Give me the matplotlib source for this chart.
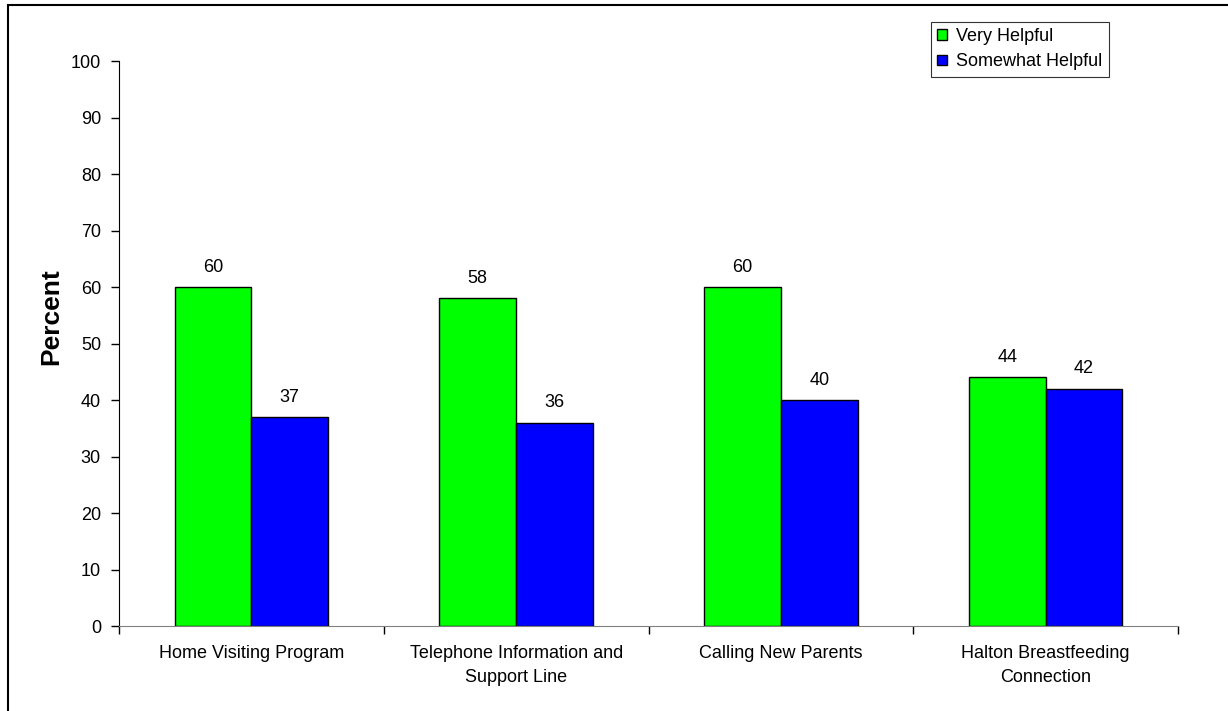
import numpy as np
import matplotlib.pyplot as plt
from matplotlib.patches import Rectangle

plt.rcParams['font.family'] = ['Liberation Sans', 'DejaVu Sans']

categories = ["Home Visiting Program", "Telephone Information and\nSupport Line",
              "Calling New Parents", "Halton Breastfeeding\nConnection"]
very_helpful = [60, 58, 60, 44]
somewhat_helpful = [37, 36, 40, 42]

fig = plt.figure(figsize=(12.28, 7.11), dpi=100)
ax = fig.add_axes([0.0969, 0.1195, 0.8624, 0.7947])

x = np.arange(len(categories))
w = 0.29
b1 = ax.bar(x - w / 2, very_helpful, w, color='#00FF00', edgecolor='black', linewidth=1, label='Very Helpful')
b2 = ax.bar(x + w / 2, somewhat_helpful, w, color='#0000FF', edgecolor='black', linewidth=1, label='Somewhat Helpful')

for bars in (b1, b2):
    for r in bars:
        ax.text(r.get_x() + r.get_width() / 2, r.get_height() + 2, "%d" % r.get_height(),
                ha='center', va='bottom', fontsize=13)

ax.set_xlim(-0.5, 3.5)
ax.set_ylim(0, 100)
ax.set_yticks(range(0, 101, 10))
ax.tick_params(axis='y', labelsize=13, length=6, direction='out', width=1, pad=7)
ax.set_xticks(x)
ax.set_xticklabels(categories, fontsize=13, linespacing=1.5)
ax.tick_params(axis='x', length=0, pad=14)
ax.set_xticks(np.arange(-0.5, 4.0, 1.0), minor=True)
ax.tick_params(axis='x', which='minor', length=6, width=1)
ax.spines['top'].set_visible(False)
ax.spines['right'].set_visible(False)
ax.spines['bottom'].set_color('#808080')
ax.set_ylabel('Percent', fontsize=19, fontweight='bold')
ax.yaxis.set_label_coords(-0.053, 0.547)

leg = ax.legend(loc='upper left', bbox_to_anchor=(931 / 1228, 1 - 22 / 711), bbox_transform=fig.transFigure,
                fontsize=13, frameon=True, fancybox=False, edgecolor='black', handlelength=0.55,
                handleheight=0.55, handletextpad=0.5, borderpad=0.35, labelspacing=0.45,
                borderaxespad=0)
leg.get_frame().set_linewidth(0.8)

# outer border (only top and left visible)
fig.patches.append(Rectangle((8 / 1228, -0.05), 1.1, 1 - 5 / 711 + 0.05, transform=fig.transFigure,
                             fill=False, edgecolor='black', linewidth=1.5))

fig.savefig('out.png', dpi=100)
